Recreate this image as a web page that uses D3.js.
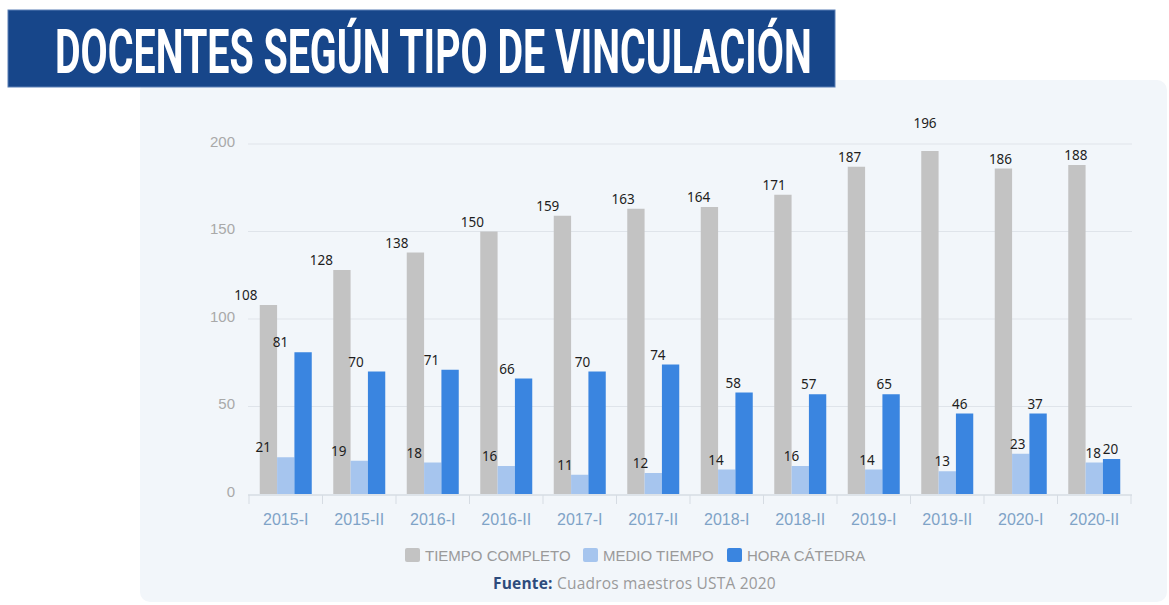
<!DOCTYPE html>
<html>
<head>
<meta charset="utf-8">
<script src="https://cdnjs.cloudflare.com/ajax/libs/d3/7.8.5/d3.min.js"></script>
<style>
  body { margin: 0; background: #ffffff; }
  svg { display: block; }
</style>
</head>
<body>
<div class="chart"></div>
<script>
// data
var periodos = ["2015-I", "2015-II", "2016-I", "2016-II", "2017-I", "2017-II",
                "2018-I", "2018-II", "2019-I", "2019-II", "2020-I", "2020-II"];
var tiempoCompleto = [108, 128, 138, 150, 159, 163, 164, 171, 187, 196, 186, 188];
var medioTiempo = [21, 19, 18, 16, 11, 12, 14, 16, 14, 13, 23, 18];
// bar heights as drawn, and the numbers written above them (two differ in the source)
var horaCatedra = [81, 70, 71, 66, 70, 74, 58, 57, 57, 46, 46, 20];
var horaCatedraEtiquetas = [81, 70, 71, 66, 70, 74, 58, 57, 65, 46, 37, 20];
var series = ["TIEMPO COMPLETO", "MEDIO TIEMPO", "HORA CÁTEDRA"];
var yTicks = [0, 50, 100, 150, 200];

var colores = ["#c3c3c3", "#a6c5ee", "#3a85e0"];

var svgWidth = 1169, svgHeight = 605;

var svg = d3.select(".chart")
    .append("svg")
    .attr("width", svgWidth)
    .attr("height", svgHeight);

// card behind the chart
svg.append("rect")
    .attr("x", 140).attr("y", 80)
    .attr("width", 1027).attr("height", 522)
    .attr("rx", 10)
    .attr("fill", "#f2f6fa");

// title banner
svg.append("rect")
    .attr("x", 8).attr("y", 10)
    .attr("width", 827).attr("height", 77)
    .attr("fill", "#17468a")
    .attr("stroke", "#5a7fb5")
    .attr("stroke-width", 1);

// condensed look: squeeze the bold title horizontally to fit the banner
var title = svg.append("text")
    .attr("x", 0).attr("y", 0)
    .attr("font-family", "Roboto, 'DejaVu Sans'")
    .attr("font-weight", "bold")
    .attr("font-size", 61)
    .attr("fill", "#ffffff")
    .text("DOCENTES SEGÚN TIPO DE VINCULACIÓN");
var titleLen = title.node().getComputedTextLength();
title.attr("transform", "translate(55,73) scale(" + (757 / titleLen) + ",1)");

var rows = periodos.map(function (p, i) {
    return {
        periodo: p,
        i: i,
        valores: [tiempoCompleto[i], medioTiempo[i], horaCatedra[i]],
        etiquetas: [tiempoCompleto[i], medioTiempo[i], horaCatedraEtiquetas[i]]
    };
});

var xScale = d3.scaleBand()
    .domain(periodos)
    .range([249, 1131]);

var groupW = 52;
var x1 = d3.scaleBand()
    .domain(d3.range(series.length))
    .range([0, groupW]);

var yScale = d3.scaleLinear()
    .domain([0, 200])
    .range([494, 144]);

// label shift drifts from left of the bar to centred across the chart
var shift = d3.scaleLinear()
    .domain([0, periodos.length - 1])
    .range([-22.5, -1]);

// grid
svg.append("g")
    .selectAll("line")
    .data(yTicks.filter(function (t) { return t > 0; }))
    .enter()
    .append("line")
    .attr("x1", 248).attr("x2", 1132)
    .attr("y1", function (d) { return yScale(d); })
    .attr("y2", function (d) { return yScale(d); })
    .attr("stroke", "#dfe4ea")
    .attr("stroke-width", 1.2);

// y axis labels
var leftAxis = d3.axisLeft(yScale).tickValues(yTicks).tickSize(0).tickPadding(0);
var yAxis = svg.append("g")
    .attr("transform", "translate(235,-2.5)")
    .call(leftAxis);
yAxis.select(".domain").remove();
yAxis.selectAll("text")
    .attr("font-family", "'Liberation Sans', Arial, sans-serif")
    .attr("font-size", 15)
    .attr("fill", "#a9a9a9");

// bars
var groups = svg.append("g")
    .selectAll("g")
    .data(rows)
    .enter()
    .append("g")
    .attr("transform", function (d) {
        return "translate(" + (xScale(d.periodo) + (xScale.bandwidth() - groupW) / 2) + ",0)";
    });

groups.selectAll("rect")
    .data(function (d) { return d.valores; })
    .enter()
    .append("rect")
    .attr("x", function (v, k) { return x1(k); })
    .attr("y", function (v) { return yScale(v); })
    .attr("width", x1.bandwidth())
    .attr("height", function (v) { return yScale(0) - yScale(v); })
    .attr("fill", function (v, k) { return colores[k]; });

groups.selectAll("text")
    .data(function (d) {
        return d.valores.map(function (v, k) {
            return { v: v, k: k, txt: d.etiquetas[k], i: d.i };
        });
    })
    .enter()
    .append("text")
    .attr("x", function (d) { return x1(d.k) + x1.bandwidth() / 2 + shift(d.i); })
    .attr("y", function (d) {
        return d.v > 190 ? yScale(200) - 16 : yScale(d.v) - 5;
    })
    .attr("text-anchor", "middle")
    .attr("font-family", "'Noto Sans', 'Open Sans', sans-serif")
    .attr("font-size", 13.5)
    .attr("fill", "#1e1e1e")
    .text(function (d) { return d.txt; });

// x axis
svg.append("line")
    .attr("x1", 248).attr("x2", 1132)
    .attr("y1", 495).attr("y2", 495)
    .attr("stroke", "#d6dce3")
    .attr("stroke-width", 1.5);

var edges = periodos.map(function (p) { return xScale(p); }).concat([xScale.range()[1]]);
svg.append("g")
    .selectAll("line")
    .data(edges)
    .enter()
    .append("line")
    .attr("x1", function (d) { return d; }).attr("x2", function (d) { return d; })
    .attr("y1", 495).attr("y2", 504)
    .attr("stroke", "#d6dce3")
    .attr("stroke-width", 1);

var bottomAxis = d3.axisBottom(xScale).tickSize(0).tickPadding(0);
var xAxis = svg.append("g")
    .attr("transform", "translate(0,514)")
    .call(bottomAxis);
xAxis.select(".domain").remove();
xAxis.selectAll("text")
    .attr("font-family", "'Liberation Sans', Arial, sans-serif")
    .attr("font-size", 16)
    .attr("fill", "#7fa3c7");

// legend
var legendX = [405, 583, 727];
var legend = svg.append("g")
    .selectAll("g")
    .data(series)
    .enter()
    .append("g")
    .attr("transform", function (d, k) { return "translate(" + legendX[k] + ",548)"; });

legend.append("rect")
    .attr("width", 15).attr("height", 14)
    .attr("rx", 2)
    .attr("fill", function (d, k) { return colores[k]; });

legend.append("text")
    .attr("x", 20).attr("y", 13)
    .attr("font-family", "'Liberation Sans', Arial, sans-serif")
    .attr("font-size", 15)
    .attr("fill", "#9a9a9a")
    .text(function (d) { return d; });

// source
var fuente = svg.append("text")
    .attr("x", 493).attr("y", 589)
    .attr("font-family", "'Open Sans', sans-serif")
    .attr("font-size", 15.5)
    .attr("letter-spacing", 0.2);
fuente.append("tspan")
    .attr("font-weight", "bold")
    .attr("fill", "#2d4b7c")
    .text("Fuente:");
fuente.append("tspan")
    .attr("fill", "#9a9a9a")
    .text(" Cuadros maestros USTA 2020");
</script>
</body>
</html>
